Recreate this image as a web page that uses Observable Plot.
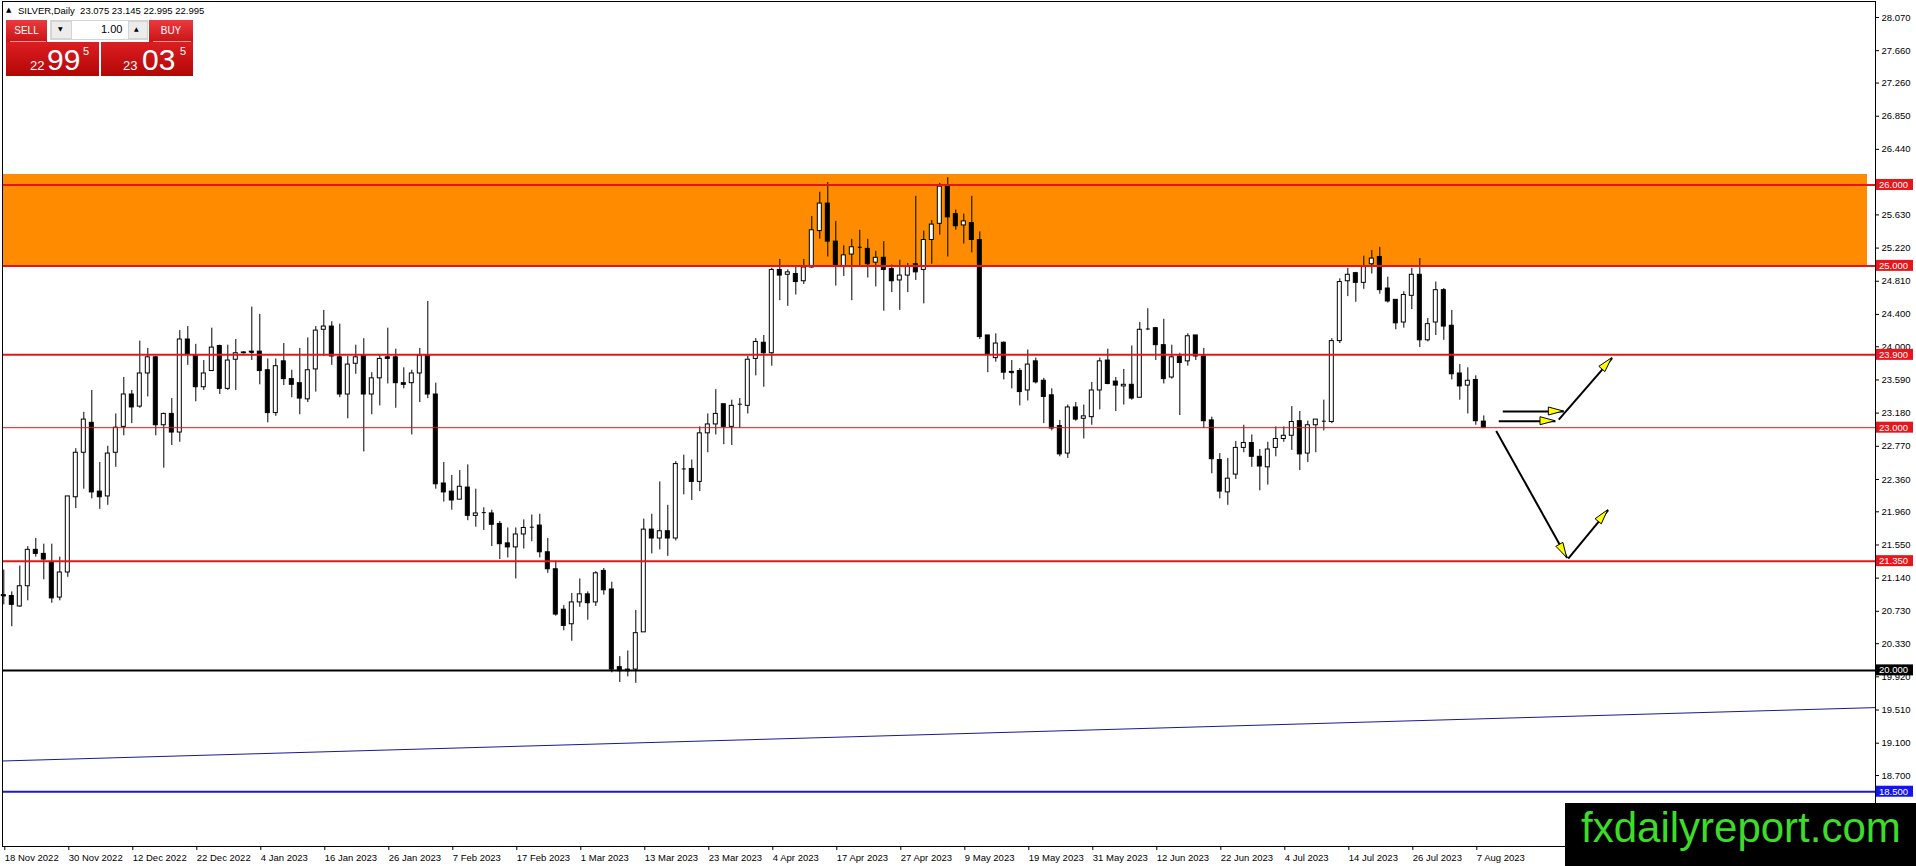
<!DOCTYPE html>
<html>
<head>
<meta charset="utf-8">
<script src="https://cdn.jsdelivr.net/npm/d3@7"></script>
<script src="https://cdn.jsdelivr.net/npm/@observablehq/plot@0.6"></script>
<style>
  body { margin: 0; background: #fff; }
  #wrap { position: relative; width: 1916px; height: 866px; overflow: hidden; font-family: "Liberation Sans", Arial, sans-serif; }
  .abs { position: absolute; line-height: 1; white-space: pre; }
  .btn { position: absolute; background: linear-gradient(to bottom, #ea3a3f, #c91414); color: #fff; font-size: 10px; text-align: center; line-height: 22px; }
  .box { position: absolute; background: linear-gradient(to bottom, #dc1e22 0%, #b30606 100%); color: #fff; }
  .tri { font-family: "DejaVu Sans", sans-serif; }
</style>
</head>
<body>
<div id="wrap">
  <div id="chart"></div>

  <!-- header -->
  <div class="abs tri" style="left:6px;top:7px;font-size:7px;color:#000;">▲</div>
  <div class="abs" style="left:18px;top:6px;font-size:9.5px;color:#000;">SILVER,Daily  23.075 23.145 22.995 22.995</div>

  <!-- trade panel -->
  <div class="btn" style="left:6px;top:20px;width:41px;height:22px;">SELL</div>
  <div class="abs" style="left:10px;top:41px;width:36px;height:1px;background:rgba(255,255,255,0.55);"></div>
  <div class="abs" style="left:50px;top:20px;width:98px;height:20px;background:#d4d4d4;"></div>
  <div class="abs" style="left:52px;top:22px;width:19px;height:16px;background:#ececec;"></div>
  <div class="abs tri" style="left:58px;top:26px;font-size:6px;color:#000;">▼</div>
  <div class="abs" style="left:72px;top:21px;width:56px;height:18px;background:#fff;"></div>
  <div class="abs" style="left:101px;top:24px;font-size:11px;color:#000;">1.00</div>
  <div class="abs" style="left:129px;top:22px;width:18px;height:16px;background:#ececec;"></div>
  <div class="abs tri" style="left:134px;top:26px;font-size:6px;color:#000;">▲</div>
  <div class="btn" style="left:149px;top:20px;width:44px;height:22px;">BUY</div>
  <div class="abs" style="left:153px;top:41px;width:38px;height:1px;background:rgba(255,255,255,0.55);"></div>

  <div class="box" style="left:6px;top:42px;width:93px;height:34px;">
    <div class="abs" style="left:24px;top:17px;font-size:13px;">22</div>
    <div class="abs" style="left:41px;top:3px;font-size:30px;">99</div>
    <div class="abs" style="left:77px;top:4px;font-size:11px;">5</div>
  </div>
  <div class="box" style="left:101px;top:42px;width:92px;height:34px;">
    <div class="abs" style="left:22px;top:17px;font-size:13px;">23</div>
    <div class="abs" style="left:41px;top:3px;font-size:30px;">03</div>
    <div class="abs" style="left:79px;top:4px;font-size:11px;">5</div>
  </div>

  <!-- watermark -->
  <div class="abs" style="left:1565px;top:803px;width:351px;height:63px;background:#000;"></div>
  <div class="abs" style="left:1581px;top:807px;font-size:42px;color:#3cdc28;">fxdailyreport.com</div>
</div>

<script>
// ---------------- data ----------------
const open = [
20.93,20.92,20.79,21.04,21.49,21.44,21.34,20.90,21.21,22.14,
22.69,23.06,22.21,22.15,22.69,23.01,23.41,23.26,23.67,23.87,
23.03,23.17,22.94,24.09,23.89,23.50,23.70,24.01,23.48,23.84,
23.92,23.94,23.94,23.71,23.18,23.82,23.60,23.55,23.35,23.72,
24.21,24.25,23.87,23.41,23.79,23.89,23.41,23.61,23.87,23.87,
23.55,23.55,23.67,23.89,23.41,22.31,22.21,22.11,22.26,21.91,
21.95,21.94,21.81,21.57,21.52,21.68,21.77,21.79,21.46,21.25,
20.75,20.57,20.84,20.94,20.84,21.23,21.00,20.04,20.01,20.01,
20.47,21.74,21.63,21.72,21.63,22.49,22.49,22.33,22.93,23.04,
23.29,23.01,23.29,23.27,23.85,24.05,23.92,24.95,24.89,24.90,
24.81,24.98,25.43,25.77,25.30,24.99,25.14,25.23,25.21,25.04,
25.10,24.96,24.82,24.88,25.02,24.95,25.32,25.52,25.98,25.64,
25.50,25.53,25.32,24.14,23.86,24.05,23.69,23.70,23.46,23.82,
23.58,23.40,23.02,22.68,23.25,23.11,23.13,23.46,23.83,23.57,
23.51,23.53,23.37,24.22,24.23,24.02,23.62,23.88,23.82,24.14,
23.88,23.09,22.60,22.20,22.42,22.75,22.81,22.64,22.51,22.75,
22.86,22.90,23.08,22.68,23.03,23.08,23.07,24.07,24.81,24.91,
24.79,25.02,25.11,24.72,24.58,24.30,24.63,24.89,24.08,24.30,
24.70,24.26,23.67,23.52,23.59,23.075
];
const high = [
21.24,20.97,21.29,21.53,21.63,21.56,21.56,21.40,22.15,22.74,
23.19,23.46,22.57,22.77,23.17,23.62,23.46,24.07,23.98,23.88,
23.18,23.36,24.20,24.25,24.03,23.83,24.23,24.02,24.02,24.09,
23.94,24.49,24.40,23.85,23.85,24.04,23.71,23.98,24.11,24.25,
24.45,24.31,24.28,23.88,24.02,24.10,23.68,23.89,24.23,23.97,
23.74,23.71,23.98,24.56,23.55,22.57,22.41,22.47,22.54,22.24,
22.01,21.98,21.84,21.76,21.76,21.86,21.92,21.93,21.63,21.35,
20.80,20.95,21.13,20.97,21.22,21.26,21.09,20.17,20.24,20.74,
21.87,21.93,22.33,22.04,22.58,22.66,22.60,23.01,23.17,23.47,
23.29,23.34,23.36,23.88,24.10,24.14,24.97,25.08,24.95,24.99,
25.08,25.61,25.91,26.03,25.55,25.25,25.33,25.44,25.33,25.18,
25.30,25.01,25.07,25.03,25.86,25.43,25.56,26.02,26.09,25.69,
25.64,25.86,25.42,24.14,24.16,24.06,23.83,23.73,23.96,23.86,
23.61,23.48,23.09,23.28,23.31,23.28,23.56,23.86,23.97,23.62,
23.72,24.01,24.30,24.47,24.24,24.34,24.02,23.92,24.16,24.14,
23.98,23.13,22.68,22.62,22.83,23.03,22.91,22.73,22.82,23.01,
23.01,23.26,23.20,23.08,23.10,23.34,24.10,24.84,24.97,24.92,
25.12,25.19,25.23,24.86,24.58,24.68,24.97,25.09,24.35,24.80,
24.72,24.45,23.78,23.74,23.64,23.145
];
const low = [
20.81,20.54,20.78,20.86,21.40,21.12,20.83,20.86,21.15,22.00,
22.24,22.12,21.99,22.04,22.51,22.90,23.05,23.24,23.38,22.90,
22.50,22.78,22.82,23.77,23.32,23.46,23.70,23.41,23.46,23.46,
23.91,23.83,23.53,23.06,23.14,23.52,23.37,23.16,23.31,23.44,
23.88,23.77,23.37,23.11,23.66,22.70,23.16,23.27,23.54,23.24,
23.48,22.91,23.31,23.36,22.24,22.08,21.98,22.11,21.85,21.77,
21.73,21.53,21.37,21.39,21.13,21.50,21.59,21.39,21.20,20.67,
20.49,20.36,20.78,20.62,20.79,20.93,19.97,19.85,19.92,19.84,
20.47,21.44,21.49,21.41,21.60,22.17,22.10,22.21,22.69,22.91,
22.79,22.78,22.99,23.17,23.64,23.50,23.76,24.57,24.50,24.64,
24.77,24.97,25.33,25.11,24.75,24.87,24.57,24.99,24.85,24.74,
24.44,24.67,24.45,24.67,24.82,24.53,25.02,25.38,25.11,25.44,
25.27,25.16,24.09,23.68,23.81,23.59,23.48,23.27,23.33,23.54,
23.05,22.96,22.64,22.62,23.08,22.86,23.03,23.22,23.53,23.20,
23.28,23.34,23.37,24.20,23.83,23.54,23.60,23.15,23.76,23.83,
22.99,22.43,22.12,22.04,22.36,22.69,22.51,22.22,22.29,22.64,
22.82,22.72,22.47,22.57,22.69,22.96,23.05,24.04,24.62,24.55,
24.71,24.90,24.65,24.54,24.21,24.23,24.46,23.99,24.06,24.14,
24.08,23.59,23.34,23.17,23.03,22.995
];
const close = [
20.92,20.81,21.04,21.49,21.44,21.37,20.89,21.21,22.15,22.69,
23.10,22.20,22.14,22.68,23.00,23.41,23.25,23.67,23.87,23.03,
23.17,22.94,24.09,23.91,23.50,23.67,23.99,23.48,23.83,23.92,
23.93,23.93,23.70,23.18,23.76,23.60,23.53,23.36,23.71,24.20,
24.25,23.88,23.41,23.78,23.87,23.41,23.61,23.85,23.85,23.55,
23.53,23.67,23.89,23.41,22.30,22.20,22.10,22.27,21.91,21.94,
21.95,21.80,21.56,21.52,21.68,21.76,21.77,21.46,21.25,20.69,
20.55,20.84,20.94,20.83,21.20,20.99,20.01,19.99,19.99,20.46,
21.74,21.63,21.72,21.63,22.55,22.49,22.33,22.93,23.04,23.17,
23.01,23.27,23.29,23.84,24.06,23.92,24.95,24.88,24.92,24.80,
24.98,25.44,25.77,25.30,24.99,25.13,25.23,25.23,25.02,25.10,
24.95,24.81,24.88,24.99,24.92,25.32,25.51,25.98,25.60,25.49,
25.55,25.32,24.12,23.91,24.04,23.68,23.68,23.44,23.78,23.56,
23.38,22.99,22.67,23.25,23.10,23.14,23.46,23.82,23.54,23.52,
23.53,23.36,24.21,24.22,24.02,23.60,23.87,23.80,24.13,23.88,
23.08,22.61,22.21,22.37,22.75,22.81,22.64,22.52,22.73,22.86,
22.90,23.07,22.67,23.03,23.10,23.08,24.07,24.80,24.89,24.79,
24.99,25.09,24.70,24.56,24.29,24.64,24.89,24.08,24.28,24.70,
24.25,23.66,23.51,23.58,23.08,22.995
];

const dateLabels = [
  "18 Nov 2022","30 Nov 2022","12 Dec 2022","22 Dec 2022","4 Jan 2023","16 Jan 2023",
  "26 Jan 2023","7 Feb 2023","17 Feb 2023","1 Mar 2023","13 Mar 2023","23 Mar 2023",
  "4 Apr 2023","17 Apr 2023","27 Apr 2023","9 May 2023","19 May 2023","31 May 2023",
  "12 Jun 2023","22 Jun 2023","4 Jul 2023","14 Jul 2023","26 Jul 2023","7 Aug 2023"
];
const dateBars = [0,8,16,24,32,40,48,56,64,72,80,88,96,104,112,120,128,136,144,152,160,168,176,184];

const priceTicks = [28.070,27.660,27.260,26.850,26.440,25.630,25.220,24.810,24.400,24.000,
  23.590,23.180,22.770,22.360,21.960,21.550,21.140,20.730,20.330,19.920,19.510,19.100,18.700];

const levelPrices = [26.000, 25.000, 23.900, 23.000, 21.350, 20.000, 18.500];
const levelColors = ["#e3161b","#e3161b","#e3161b","#e3161b","#e3161b","#000000","#1b1bc8"];
const levelWidths = [2, 2, 2, 1, 2, 2, 2];
const levelBoxColors = ["#e8151b","#e8151b","#e8151b","#e8151b","#e8151b","#000000","#1414ee"];

// resistance zone (bars, prices)
const zoneBars = [-0.1625, 232.96];
const zonePrices = [25.000, 26.130];

// long-term trend line (bar, price)
const trendBars = [-0.1625, 233.96];
const trendPrices = [18.88, 19.54];

// scenario arrows (bar/price start -> end)
const arrowX1 = [187.37, 186.87, 194.37, 186.55, 195.55];
const arrowY1 = [23.20, 23.08, 23.10, 22.96, 21.38];
const arrowX2 = [195.00, 193.96, 201.05, 195.42, 200.55];
const arrowY2 = [23.20, 23.08, 23.86, 21.39, 21.98];

// ---------------- build ----------------
const candles = open.map((o, i) => ({i, o, h: high[i], l: low[i], c: close[i]}));
const bull = candles.filter(d => d.c >= d.o);
const bear = candles.filter(d => d.c < d.o);
const doji = candles.filter(d => Math.abs(d.c - d.o) < 0.013);
const zone = [{x1: zoneBars[0], x2: zoneBars[1], y1: zonePrices[0], y2: zonePrices[1]}];
const trend = trendBars.map((x, k) => ({x, y: trendPrices[k]}));
const arrows = arrowX1.map((x1, k) => ({x1, y1: arrowY1[k], x2: arrowX2[k], y2: arrowY2[k]}));
const levels = levelPrices.map((p, k) => ({p, color: levelColors[k], w: levelWidths[k], box: levelBoxColors[k]}));
const labelOf = new Map(dateBars.map((b, k) => [b, dateLabels[k]]));
const fmt = d3.format(".3f");
const half = 0.25;

const chart = Plot.plot({
  width: 1916,
  height: 866,
  marginLeft: 2,
  marginRight: 41,
  marginTop: 1,
  marginBottom: 20,
  style: {fontFamily: "Liberation Sans, Arial, sans-serif", fontSize: "9.5px", background: "white", color: "black"},
  x: {domain: [-0.1625, 233.96], axis: null},
  y: {domain: [17.823, 28.268], axis: null},
  marks: [
    Plot.rect(zone, {x1: "x1", x2: "x2", y1: "y1", y2: "y2", fill: "#ff8c00", clip: true}),
    Plot.line(trend, {x: "x", y: "y", stroke: "#18189a", strokeWidth: 1, clip: true}),
    Plot.ruleX(candles, {x: "i", y1: "l", y2: "h", stroke: "black", strokeWidth: 1}),
    Plot.rect(bull, {x1: d => d.i - half, x2: d => d.i + half, y1: "o", y2: "c", fill: "white", stroke: "black", strokeWidth: 1}),
    Plot.rect(bear, {x1: d => d.i - half, x2: d => d.i + half, y1: "o", y2: "c", fill: "black", stroke: "black", strokeWidth: 1}),
    Plot.link(doji, {x1: d => d.i - half, x2: d => d.i + half, y1: "c", y2: "c", stroke: "black", strokeWidth: 1}),
    ...levels.map(l => Plot.ruleY([l.p], {stroke: l.color, strokeWidth: l.w})),
    Plot.link(arrows, {x1: "x1", y1: "y1", x2: "x2", y2: "y2", stroke: "black", strokeWidth: 2}),
    Plot.axisY({anchor: "right", ticks: priceTicks, tickFormat: fmt, tickSize: 3, tickPadding: 3, label: null, fontSize: 9.5}),
    Plot.axisX({anchor: "bottom", ticks: dateBars, tickFormat: b => labelOf.get(b), tickSize: 4, tickPadding: 4, textAnchor: "start", dx: 1, label: null, fontSize: 9.5}),
    Plot.frame({stroke: "black", strokeWidth: 1})
  ]
});
document.getElementById("chart").appendChild(chart);

// level price labels and arrow heads, positioned with the plot's own scales
const xs = chart.scale("x"), ys = chart.scale("y");
const svg = d3.select(chart);
const gl = svg.append("g").attr("text-anchor", "start");
levels.forEach(l => {
  const y = ys.apply(l.p);
  gl.append("rect").attr("x", 1876).attr("y", y - 5.5).attr("width", 37).attr("height", 11).attr("fill", l.box);
  gl.append("text").attr("x", 1879).attr("y", y + 3.4).attr("fill", "white").attr("text-anchor", "start")
    .attr("font-size", 9.5).attr("font-family", "Liberation Sans, Arial, sans-serif").text(fmt(l.p));
});
const ga = svg.append("g");
arrows.forEach(a => {
  const x1 = xs.apply(a.x1), y1 = ys.apply(a.y1), x2 = xs.apply(a.x2), y2 = ys.apply(a.y2);
  const dx = x2 - x1, dy = y2 - y1, L = Math.hypot(dx, dy);
  const ux = dx / L, uy = dy / L, nx = -uy, ny = ux;
  const bx = x2 - 15 * ux, by = y2 - 15 * uy;
  const pts = [[x2, y2], [bx + 4 * nx, by + 4 * ny], [bx - 4 * nx, by - 4 * ny]];
  ga.append("polygon").attr("points", pts.map(p => p.join(",")).join(" "))
    .attr("fill", "#ffff00").attr("stroke", "black").attr("stroke-width", 1);
});
</script>
</body>
</html>
